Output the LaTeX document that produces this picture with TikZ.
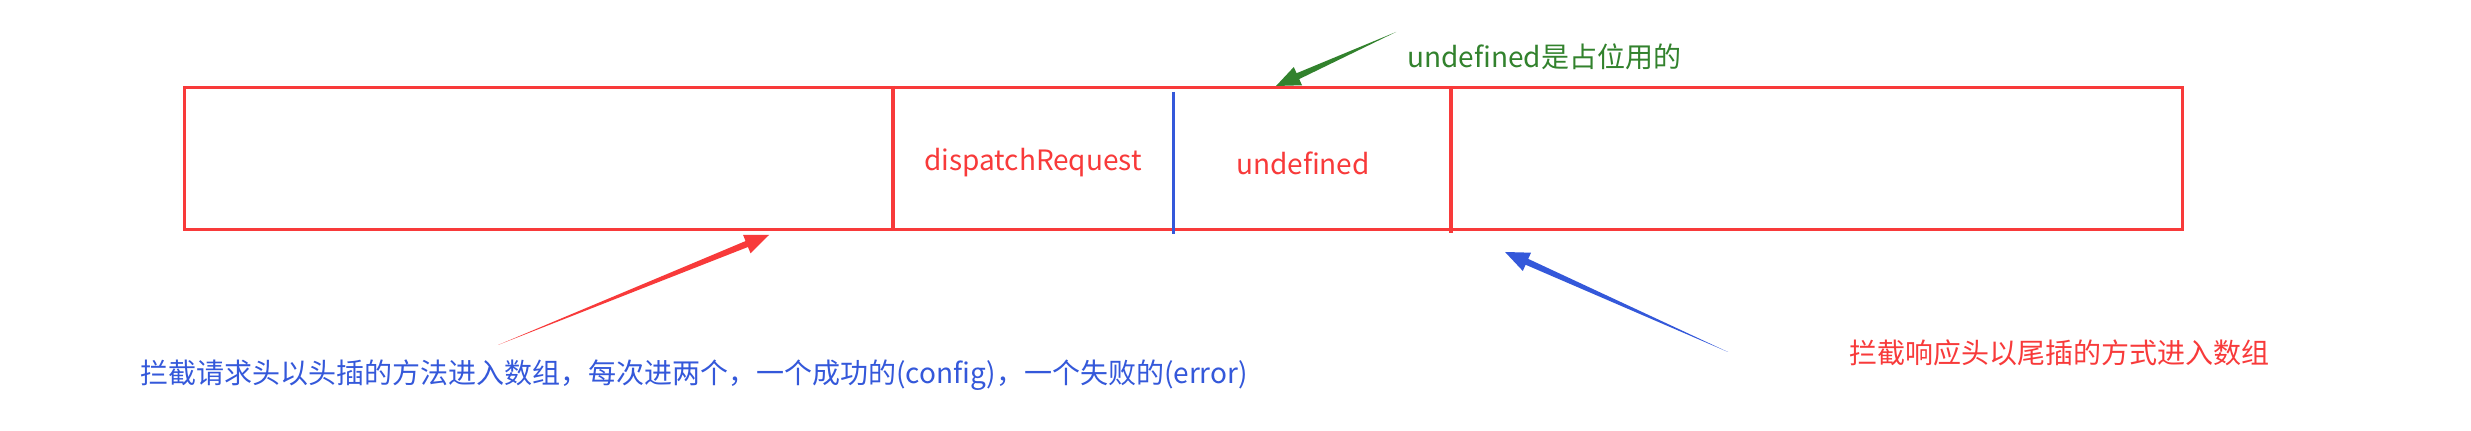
\documentclass[tikz,border=0pt]{standalone}
\usepackage{fontspec}
\newfontfamily\cjk{Noto Sans CJK SC}
\usetikzlibrary{calc}
\definecolor{cred}{RGB}{248,58,58}
\definecolor{cblue}{RGB}{52,88,218}
\definecolor{cgreen}{RGB}{50,130,45}
\newcommand\taperarrow[3]{%
  \path ($(#3)!12pt!(#2)$) coordinate (tnk);
  \fill[#1] (#2) -- ($(tnk)!1.6pt!90:(#3)$) -- ($(tnk)!5pt!90:(#3)$) -- (#3)
    -- ($(tnk)!5pt!-90:(#3)$) -- ($(tnk)!1.6pt!-90:(#3)$) -- cycle;}
\begin{document}
\begin{tikzpicture}[x=0.5pt,y=-0.5pt,
  lbl/.style={font=\cjk\fontsize{14}{16}\selectfont, inner sep=0pt},
  redline/.style={draw=cred, line width=1.5pt},
  divline/.style={draw=cred, line width=1.9pt},
  blueline/.style={draw=cblue, line width=1.5pt}]
\useasboundingbox (0,0) rectangle (2471,431);
\fill[white] (0,0) rectangle (2471,431);
% array box
\draw[redline] (184,88) rectangle (2182,230);
\coordinate (d1t) at (893,86); \coordinate (d1b) at (893,230);
\coordinate (d2t) at (1173,92); \coordinate (d2b) at (1173,234);
\coordinate (d3t) at (1451,88); \coordinate (d3b) at (1451,233);
\draw[divline] (d1t) -- (d1b);
\draw[blueline] (d2t) -- (d2b);
\draw[divline] (d3t) -- (d3b);
% cell labels
\node[lbl, text=cred] (disp) at (1033,163) {dispatchRequest};
\node[lbl, text=cred] (undef) at (1303,163) {undefined};
% annotations
\node[lbl, text=cgreen, anchor=west] (gnote) at (1407,57) {undefined是占位用的};
\node[lbl, text=cblue, anchor=west] (bnote) at (140,375) {拦截请求头以头插的方法进入数组，每次进两个，一个成功的(config)，一个失败的(error)};
\node[lbl, text=cred, anchor=west] (rnote) at (1849,353) {拦截响应头以尾插的方式进入数组};
% arrows
\coordinate (gtail) at (1396,32); \coordinate (ghead) at (1276,86);
\coordinate (rtail) at (498,345); \coordinate (rhead) at (769,235);
\coordinate (btail) at (1728,352); \coordinate (bhead) at (1505,252);
\taperarrow{cgreen}{gtail}{ghead}
\taperarrow{cred}{rtail}{rhead}
\taperarrow{cblue}{btail}{bhead}
\end{tikzpicture}
\end{document}
